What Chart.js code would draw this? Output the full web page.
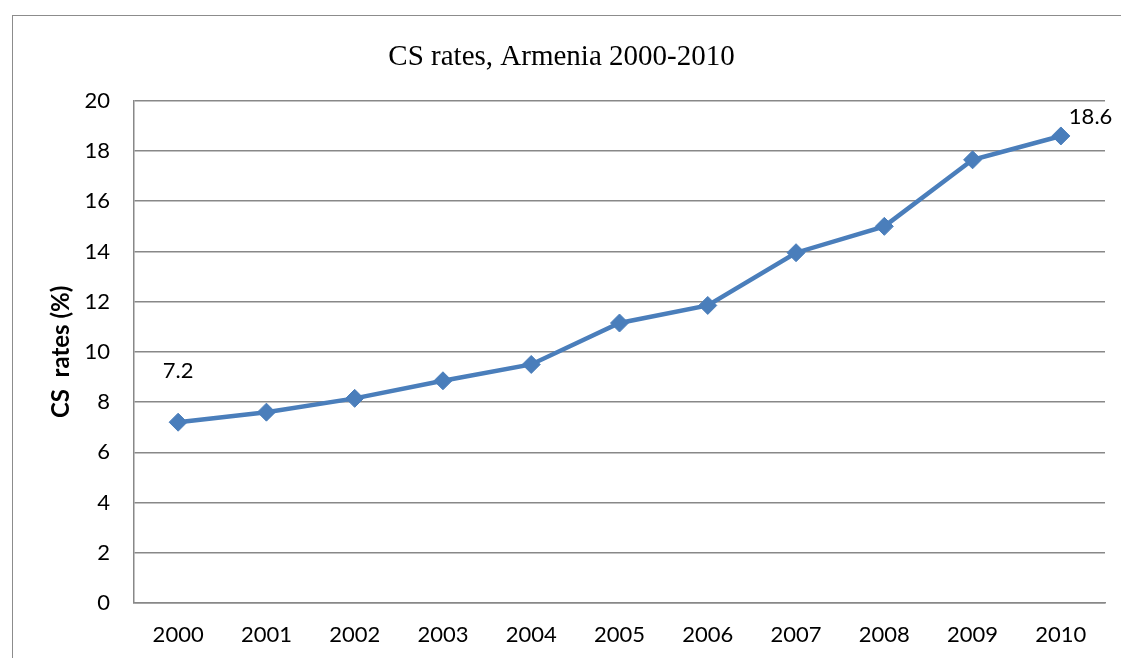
<!DOCTYPE html>
<html>
<head>
<meta charset="utf-8">
<title>CS rates, Armenia 2000-2010</title>
<script src="https://cdn.jsdelivr.net/npm/chart.js@4.4.1/dist/chart.umd.min.js"></script>
<style>
  html, body { margin: 0; padding: 0; background: #fff; overflow: hidden; }
  #frame {
    position: absolute; left: 12px; top: 15px;
    width: 1200px; height: 800px;
    border: 1.5px solid #8c8c8c;
  }
  #chart { position: absolute; left: 0; top: 0; }
</style>
</head>
<body>
<div id="frame"></div>
<canvas id="chart" width="1121" height="658"></canvas>
<script>
// data
const years = ['2000', '2001', '2002', '2003', '2004', '2005', '2006', '2007', '2008', '2009', '2010'];
const csRates = [7.2, 7.6, 8.15, 8.85, 9.5, 11.15, 11.85, 13.95, 15.0, 17.65, 18.6];
const labelledPoints = [0, 10]; // only first and last carry a value label

const lineColor = '#4a7ebb';
const gridColor = '#888888';
const labelFont = '22px Lato';

// value labels as Excel places them
const pointLabels = {
  id: 'pointLabels',
  afterDatasetsDraw(chart) {
    const ctx = chart.ctx;
    const meta = chart.getDatasetMeta(0);
    ctx.save();
    ctx.font = labelFont;
    ctx.fillStyle = '#000';
    ctx.textBaseline = 'middle';
    labelledPoints.forEach(i => {
      const pt = meta.data[i];
      const text = String(csRates[i]);
      if (i === 0) {
        ctx.textAlign = 'center';
        ctx.fillText(text, pt.x, pt.y - 51);
      } else {
        ctx.textAlign = 'left';
        ctx.fillText(text, pt.x + 8, pt.y - 19);
      }
    });
    ctx.restore();
  }
};

new Chart(document.getElementById('chart'), {
  type: 'line',
  data: {
    labels: years,
    datasets: [{
      label: 'CS rates (%)',
      data: csRates,
      borderColor: lineColor,
      backgroundColor: lineColor,
      borderWidth: 4.5,
      pointStyle: 'rectRot',
      pointRadius: 9,
      pointHoverRadius: 9,
      pointBackgroundColor: lineColor,
      pointBorderColor: lineColor,
      pointBorderWidth: 1,
      tension: 0
    }]
  },
  options: {
    responsive: false,
    animation: false,
    layout: { padding: { left: 18, right: 16, top: 0, bottom: 0 } },
    plugins: {
      legend: { display: false },
      tooltip: { enabled: false },
      title: {
        display: true,
        text: 'CS rates, Armenia 2000-2010',
        color: '#000',
        font: { family: 'Liberation Serif', size: 29, weight: 'normal' },
        padding: { top: 40, bottom: 26 }
      }
    },
    scales: {
      x: {
        offset: true,
        grid: { display: false, drawTicks: false },
        border: { display: true, color: gridColor, width: 1.5 },
        ticks: { color: '#000', font: { family: 'Lato', size: 22 }, padding: 19, maxRotation: 0 },
        afterFit(scale) { scale.height = 55; }
      },
      y: {
        min: 0,
        max: 20,
        ticks: { stepSize: 2, color: '#000', font: { family: 'Lato', size: 22 }, padding: 24 },
        grid: { color: gridColor, lineWidth: 1.5, drawTicks: false },
        border: { display: true, color: gridColor, width: 1.5 },
        title: {
          display: true,
          text: 'CS  rates (%)',
          color: '#000',
          font: { family: 'Lato', size: 24, weight: 'bold' },
          padding: { top: 29, bottom: 0 }
        },
        afterFit(scale) { scale.width = 116; }
      }
    }
  },
  plugins: [pointLabels]
});
</script>
</body>
</html>
